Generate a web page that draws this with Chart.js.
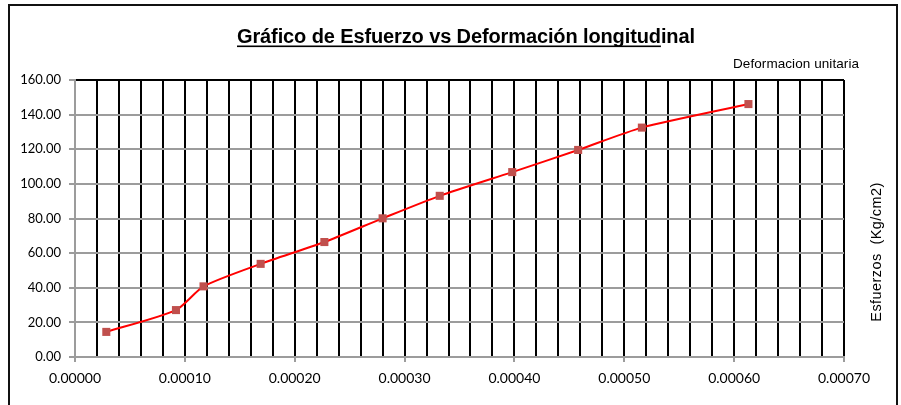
<!DOCTYPE html>
<html>
<head>
<meta charset="utf-8">
<title>Gráfico de Esfuerzo vs Deformación longitudinal</title>
<script src="https://cdn.jsdelivr.net/npm/chart.js@4/dist/chart.umd.min.js"></script>
<style>
  html, body { margin: 0; padding: 0; background: #fff; }
  #wrap { width: 901px; height: 405px; }
</style>
</head>
<body>
<div id="wrap"><canvas id="c" width="901" height="405"></canvas></div>
<script>
// Deformación unitaria (strain) and esfuerzo (stress, Kg/cm2) measured per load step
const strain = [0.0000285, 0.0000919, 0.000117, 0.000169, 0.000227, 0.000280, 0.000332, 0.000398, 0.000458, 0.000516, 0.000613];
const stress = [14.5, 27.1, 40.8, 53.8, 66.4, 80.1, 93.1, 106.8, 119.6, 132.5, 146.1];

// Axis ranges and text
const xRange = [0, 0.0007];
const xMinorStep = 0.00002;
const xLabelStep = 0.0001;
const yRange = [0, 160];
const yStep = 20;
const chartTitle = 'Gráfico de Esfuerzo vs Deformación longitudinal';
const titleUnderlined = 'Gráfico de Esfuerzo vs Deformación longitud';
const xTitle = 'Deformacion unitaria';
const yTitle = 'Esfuerzos  (Kg/cm2)';

const GRID_GRAY = '#9c9c9c';
const isMajorX = v => Math.abs(v / xLabelStep - Math.round(v / xLabelStep)) < 1e-6;

// Draws the white background and the outer frame of the chart
const framePlugin = {
  id: 'frame',
  beforeDraw(chart) {
    const ctx = chart.ctx;
    ctx.save();
    ctx.fillStyle = '#fff';
    ctx.fillRect(0, 0, chart.width, chart.height);
    ctx.strokeStyle = '#111';
    ctx.lineWidth = 2;
    ctx.strokeRect(9, 5, 888, 410);
    ctx.restore();
  }
};

// Writes text so that it spans a given width
function fitText(ctx, text, x, y, width) {
  const natural = ctx.measureText(text).width;
  ctx.letterSpacing = ((width - natural) / (text.length - 1)) + 'px';
  ctx.fillText(text, x, y);
  ctx.letterSpacing = '0px';
}

// Underlined title plus the two axis captions
const textPlugin = {
  id: 'texts',
  afterDraw(chart) {
    const ctx = chart.ctx;
    ctx.save();
    ctx.fillStyle = '#000';
    ctx.textBaseline = 'alphabetic';

    // title
    ctx.font = 'bold 20px "Liberation Sans", Arial, sans-serif';
    const tx = 237;
    ctx.textAlign = 'left';
    const natural = ctx.measureText(chartTitle).width;
    ctx.letterSpacing = ((458 - natural) / (chartTitle.length - 1)) + 'px';
    ctx.fillText(chartTitle, tx, 43);
    const uw = ctx.measureText(titleUnderlined).width;
    ctx.fillRect(tx, 45.5, uw, 1.6);
    ctx.letterSpacing = '0px';

    // x caption at top right
    ctx.font = '13.5px "Liberation Sans", Arial, sans-serif';
    ctx.textAlign = 'left';
    fitText(ctx, xTitle, 733, 68, 126);

    // y caption, rotated on the right side
    ctx.translate(881, 252);
    ctx.rotate(-Math.PI / 2);
    ctx.textAlign = 'center';
    ctx.font = '14.5px "Liberation Sans", Arial, sans-serif';
    fitText(ctx, yTitle, 0, 0, 139);
    ctx.restore();
  }
};

new Chart(document.getElementById('c'), {
  type: 'scatter',
  data: {
    datasets: [{
      data: strain.map((x, i) => ({ x, y: stress[i] })),
      showLine: true,
      borderColor: '#ff0000',
      borderWidth: 2,
      tension: 0.22,
      pointStyle: 'rect',
      pointRadius: 5.7,
      pointHoverRadius: 5.7,
      pointBackgroundColor: '#c0504d',
      pointBorderColor: '#c0504d',
      pointBorderWidth: 0
    }]
  },
  options: {
    responsive: false,
    devicePixelRatio: 1,
    animation: false,
    events: [],
    layout: { padding: { left: 0, right: 57, top: 80, bottom: 0 } },
    plugins: {
      legend: { display: false },
      title: { display: false },
      tooltip: { enabled: false }
    },
    scales: {
      x: {
        type: 'linear',
        min: xRange[0],
        max: xRange[1],
        afterFit(scale) { scale.height = 48; },
        border: { display: true, color: GRID_GRAY, width: 2 },
        grid: {
          drawOnChartArea: true,
          drawTicks: true,
          tickLength: 5,
          lineWidth: 2,
          color: c => (c.tick && c.tick.value === 0) ? GRID_GRAY : '#000',
          tickColor: c => (c.tick && isMajorX(c.tick.value)) ? GRID_GRAY : 'rgba(0,0,0,0)'
        },
        ticks: {
          stepSize: xMinorStep,
          autoSkip: false,
          maxRotation: 0,
          padding: 8,
          color: '#000',
          font: { family: 'Lato, "Open Sans", sans-serif', size: 14 },
          callback: v => isMajorX(v) ? v.toFixed(5) : ''
        }
      },
      y: {
        min: yRange[0],
        max: yRange[1],
        afterFit(scale) { scale.width = 75; },
        border: { display: true, color: GRID_GRAY, width: 2 },
        grid: {
          lineWidth: 2,
          tickLength: 6,
          color: c => (c.tick && c.tick.value === yRange[1]) ? '#000' : GRID_GRAY,
          tickColor: GRID_GRAY
        },
        ticks: {
          stepSize: yStep,
          padding: 8,
          color: '#000',
          font: { family: 'Lato, "Open Sans", sans-serif', size: 13 },
          callback: v => v.toFixed(2)
        }
      }
    }
  },
  plugins: [framePlugin, textPlugin]
});
</script>
</body>
</html>
